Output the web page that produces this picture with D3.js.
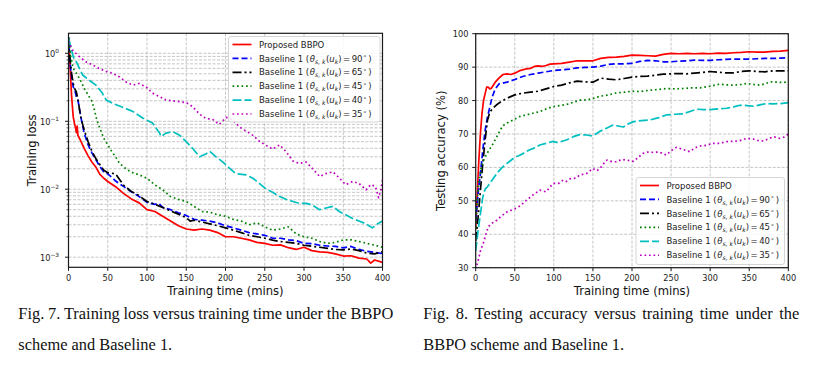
<!DOCTYPE html>
<html><head><meta charset="utf-8">
<script src="https://cdn.jsdelivr.net/npm/d3@7/dist/d3.min.js"></script>
<style>body{margin:0;background:#fff}svg{display:block}</style>
</head><body>
<svg id="c" width="815" height="367"></svg>
<script>
// ---------- DATA ----------
const xTicks = [0, 50, 100, 150, 200, 250, 300, 350, 400];
const lossTicks = [1, 0.1, 0.01, 0.001];
const lossTickExp = ["0", "−1", "−2", "−3"];
const accTicks = [30, 40, 50, 60, 70, 80, 90, 100];
const seriesNames = ["Proposed BBPO", "90", "65", "45", "40", "35"];

const lossT_proposed = [0,2,4,6,8,9,10,11,12,15,20,25,30,35,40,45,50,60,70,80,90,100,110,120,130,140,150,160,170,180,190,200,210,220,230,240,250,260,270,280,290,300,310,320,330,340,350,360,370,380,385,390,400];
const loss_proposed = [1.7,0.64,0.23,0.117,0.088,0.080,0.068,0.085,0.062,0.053,0.040,0.031,0.025,0.021,0.0165,0.0145,0.0130,0.0109,0.0087,0.0072,0.0063,0.0050,0.0047,0.0040,0.0034,0.0029,0.0026,0.0025,0.0026,0.0025,0.0023,0.0020,0.0020,0.0019,0.0018,0.00165,0.0016,0.0015,0.00152,0.00138,0.0013,0.0014,0.00125,0.0012,0.00118,0.00112,0.00104,0.00105,0.00097,0.00094,0.00082,0.00091,0.00084];

const lossT_90 = [0,2,4,6,8,10,12,15,18,20,25,30,35,40,45,50,55,60,70,80,90,100,110,115,120,130,140,150,160,170,180,190,200,210,220,230,240,250,260,270,280,290,300,310,320,330,340,350,360,370,380,390,400];
const loss_90 = [1.7,0.71,0.45,0.32,0.29,0.23,0.206,0.13,0.084,0.067,0.045,0.034,0.027,0.0215,0.018,0.0168,0.0150,0.0132,0.0110,0.0092,0.0078,0.0064,0.0060,0.0062,0.0054,0.0050,0.0045,0.0041,0.0036,0.0035,0.0034,0.0032,0.0029,0.0027,0.0025,0.0023,0.0022,0.0021,0.0019,0.0019,0.0018,0.00175,0.0016,0.00158,0.0015,0.00146,0.00144,0.00137,0.00144,0.0013,0.00122,0.00118,0.00113];

const lossT_65 = [0,2,4,6,8,10,12,14,16,18,20,25,30,35,40,45,50,55,60,63,70,80,90,100,110,120,130,140,150,155,160,170,180,190,200,210,220,230,240,250,260,270,280,290,300,310,320,330,340,350,360,370,380,390,400];
const loss_65 = [1.7,0.8,0.5,0.36,0.30,0.27,0.21,0.15,0.11,0.09,0.075,0.05,0.036,0.028,0.023,0.019,0.0175,0.0172,0.0168,0.015,0.0115,0.0093,0.0080,0.0066,0.0060,0.0054,0.0048,0.0043,0.0038,0.0034,0.0035,0.0033,0.0031,0.0029,0.0027,0.0025,0.0023,0.0021,0.0020,0.0019,0.00178,0.0017,0.00165,0.0016,0.0015,0.00145,0.0014,0.00135,0.0013,0.00128,0.00132,0.00125,0.00115,0.00112,0.0012];

const lossT_45 = [0,3,6,10,15,20,25,30,33,36,40,45,50,55,60,65,70,75,80,90,100,110,120,130,140,150,160,170,180,190,200,210,220,230,240,250,260,270,280,290,300,310,320,330,340,350,360,370,380,390,400];
const loss_45 = [1.7,0.9,0.6,0.51,0.405,0.306,0.244,0.195,0.147,0.105,0.079,0.056,0.045,0.036,0.030,0.024,0.0215,0.0193,0.0178,0.0163,0.0145,0.0116,0.0098,0.0078,0.0071,0.0066,0.0056,0.0047,0.0046,0.0042,0.0040,0.0036,0.0034,0.0030,0.0032,0.0028,0.0025,0.0026,0.0028,0.0022,0.0020,0.0019,0.0017,0.0016,0.00165,0.0018,0.0018,0.0017,0.0016,0.0015,0.0014];

const lossT_40 = [0,3,6,10,18,26,35,43,48,56,69,82,95,107,116,118,124,133,141,150,158,167,175,180,188,196,205,213,226,235,243,252,260,269,277,286,294,303,311,320,328,337,345,353,362,370,379,387,394,400];
const loss_40 = [1.66,1.25,0.89,0.75,0.48,0.405,0.34,0.26,0.206,0.184,0.161,0.139,0.111,0.094,0.067,0.0595,0.067,0.070,0.063,0.050,0.040,0.030,0.033,0.036,0.030,0.0255,0.0204,0.017,0.0163,0.0145,0.0122,0.0100,0.0090,0.0078,0.0071,0.0066,0.0062,0.0062,0.0058,0.0050,0.0053,0.0056,0.0047,0.0042,0.0037,0.0034,0.0031,0.0027,0.0031,0.0034];

const lossT_35 = [0,5,14,22,31,39,48,56,65,73,82,90,99,107,116,124,133,141,150,158,167,175,184,192,201,209,218,226,235,243,252,260,269,277,286,294,303,311,320,328,337,345,353,362,370,379,385,391,395,398,400];
const loss_35 = [1.5,1.12,0.89,0.75,0.67,0.60,0.54,0.51,0.45,0.38,0.34,0.36,0.32,0.26,0.23,0.206,0.20,0.195,0.188,0.165,0.127,0.11,0.106,0.09,0.114,0.105,0.082,0.072,0.062,0.051,0.044,0.039,0.045,0.036,0.026,0.024,0.025,0.020,0.0154,0.017,0.018,0.0146,0.0117,0.0130,0.0122,0.0098,0.0117,0.0110,0.0075,0.0098,0.0137];

const accT_proposed = [0,2,4,6,8,10,12,14,16,18,20,25,30,35,40,45,50,55,60,65,70,75,80,85,90,95,100,110,120,130,140,150,160,170,180,190,200,210,220,230,240,250,260,270,280,290,300,310,320,330,340,350,360,370,380,390,400];
const acc_proposed = [42,52,62,70,76,80,82,84,84,83.5,83.7,85.5,86.8,87.8,88.0,87.8,88.2,88.8,89.2,89.5,89.6,90.2,90.4,90.2,90.5,90.9,91.0,91.1,91.5,91.9,91.9,91.9,92.6,92.9,93.0,93.2,93.6,93.5,93.4,93.3,93.8,94.1,94.0,94.1,94.0,94.1,94.0,94.2,94.1,94.3,94.4,94.6,94.5,94.5,94.7,94.8,95.0];

const accT_90 = [0,3,6,9,12,15,18,21,25,30,40,50,60,70,80,90,100,110,120,130,140,150,160,170,180,190,200,210,220,230,240,250,260,270,280,290,300,310,320,330,340,350,360,370,380,390,400];
const acc_90 = [44,52,58,65,71,75,78,81,83.5,85,85.5,86.3,87.2,87.8,88.2,88.6,89.0,89.2,89.4,89.8,89.9,90.0,90.3,90.8,91.0,91.0,91.1,91.7,92.0,91.9,91.6,91.6,91.8,91.9,92.1,92.0,92.0,92.2,92.3,92.4,92.4,92.4,92.5,92.6,92.6,92.7,92.8];

const accT_65 = [0,3,6,9,12,15,18,22,27,33,40,50,60,70,80,90,100,110,120,130,140,150,160,170,180,190,200,210,220,230,240,250,260,270,280,290,300,310,320,330,340,350,360,370,380,390,400];
const acc_65 = [38,45,53,61,68,74,76.5,77.7,78.8,79.8,80.7,81.7,82.2,82.5,82.8,83.5,84.2,84.6,85.3,85.8,85.6,85.5,86.7,86.4,86.2,86.6,87.0,87.2,87.3,87.6,87.9,88.0,88.1,88.0,88.2,88.4,88.7,88.5,88.3,88.3,88.7,88.9,88.7,88.6,88.9,88.9,88.9];

const accT_45 = [0,2,4,7,10,14,18,22,27,31,35,40,48,56,65,73,82,90,99,108,116,125,133,142,150,159,168,180,190,200,210,223,233,244,255,265,276,287,300,312,320,330,340,347,356,364,370,377,385,392,400];
const acc_45 = [42,50,56,60,62,64,65.5,67,69.2,71,72.5,73.3,74.2,75.2,75.7,76.2,76.7,77.5,78.2,78.5,78.8,79.5,80.1,80.2,80.6,81.3,81.6,82.3,82.5,82.8,82.7,83.1,83.3,83.6,83.5,83.6,83.8,83.8,84.3,84.9,84.7,84.6,84.8,85.1,84.8,84.6,85.0,85.6,85.5,85.4,85.6];

const accT_40 = [0,3,6,9,12,15,18,22,27,33,40,50,55,61,69,74,82,90,99,105,116,125,133,142,150,159,168,175,182,189,195,202,212,223,233,244,255,265,275,283,292,300,310,321,330,338,347,356,365,372,380,390,400];
const acc_40 = [35,41,46,51,53.5,54.2,55.2,56.5,58.2,59.8,61.2,63,63.5,64.2,65.3,65.7,66.7,67.2,67.8,67.4,68.2,69.2,69.8,69.7,69.4,70.8,71.8,72.6,72.4,72.1,73.0,73.7,74.0,74.2,74.8,75.7,75.9,76.0,76.8,77.4,77.3,77.3,77.5,77.7,78.1,78.6,78.5,78.3,78.8,79.1,79.0,79.1,79.4];

const accT_35 = [0,3,6,10,13,16,20,27,33,40,50,57,65,73,82,90,99,106,112,116,121,128,133,142,150,155,159,165,168,175,180,187,193,202,208,214,220,227,235,244,250,257,265,274,280,287,295,304,312,321,330,338,347,355,362,368,375,381,389,395,400];
const acc_35 = [29.5,32,35,37.5,40,42.2,43.2,44.2,45.5,46.7,47.6,48.5,50.2,51.7,53.2,52.7,55.2,55.2,56.2,55.8,56.6,56.8,57.7,58.2,59.7,59.0,59.7,61.5,62.2,61.7,61.7,62.4,62.2,61.8,63.0,64.2,64.6,64.5,64.6,63.7,65.0,66.0,65.4,64.7,65.8,66.4,66.6,67.2,67.2,67.7,67.8,68.0,68.7,68.5,68.0,67.9,68.6,69.2,68.7,69.1,70.0];

// ---------- STYLE ----------
const styles = [
  {color: "#ff0000", dash: null},
  {color: "#0000ff", dash: "6,3"},
  {color: "#000000", dash: "9,3,2,3"},
  {color: "#008000", dash: "1.7,2.8"},
  {color: "#00bfbf", dash: "9,3"},
  {color: "#bf00bf", dash: "1.7,2.8"}
];
const FONT = "DejaVu Sans, sans-serif";
const svg = d3.select("#c");

const zip = (t, v) => t.map((d, i) => [d, v[i]]);
const lossSeries = [zip(lossT_proposed, loss_proposed), zip(lossT_90, loss_90), zip(lossT_65, loss_65), zip(lossT_45, loss_45), zip(lossT_40, loss_40), zip(lossT_35, loss_35)];
const accSeries = [zip(accT_proposed, acc_proposed), zip(accT_90, acc_90), zip(accT_65, acc_65), zip(accT_45, acc_45), zip(accT_40, acc_40), zip(accT_35, acc_35)];

function legendLabel(t, name, i) {
  if (i === 0) { t.text(name); return; }
  t.append("tspan").text("Baseline 1 (");
  t.append("tspan").attr("font-style", "italic").attr("dx", 0.6).text("θ");
  t.append("tspan").attr("font-style", "italic").attr("font-size", "6.1px").attr("dy", 2).text("s, k");
  t.append("tspan").attr("dy", -2).attr("dx", 0.4).text("(");
  t.append("tspan").attr("font-style", "italic").text("u");
  t.append("tspan").attr("font-style", "italic").attr("font-size", "6.1px").attr("dy", 2).text("k");
  t.append("tspan").attr("dy", -2).text(")");
  t.append("tspan").attr("dx", 1.5).text("=");
  t.append("tspan").attr("dx", 1.5).text(name);
  t.append("tspan").attr("font-size", "6.1px").attr("dy", -3.5).attr("dx", 0.5).text("∘");
  t.append("tspan").attr("dy", 3.5).attr("dx", 1.5).text(")");
}

function drawChart(cfg) {
  const g = svg.append("g");
  const x = d3.scaleLinear().domain([0, 400]).range([cfg.x0, cfg.x1]);
  const y = cfg.y;
  const clipId = "clip" + cfg.id;
  svg.append("clipPath").attr("id", clipId).append("rect")
    .attr("x", cfg.x0).attr("y", cfg.y0).attr("width", cfg.x1 - cfg.x0).attr("height", cfg.y1 - cfg.y0);

  // grid
  const grid = g.append("g").attr("stroke", "#b8b8b8").attr("stroke-width", 0.8).attr("stroke-dasharray", "3,1.5");
  xTicks.forEach(v => grid.append("line").attr("x1", x(v)).attr("x2", x(v)).attr("y1", cfg.y0).attr("y2", cfg.y1));
  cfg.gridY.forEach(v => grid.append("line").attr("y1", y(v)).attr("y2", y(v)).attr("x1", cfg.x0).attr("x2", cfg.x1));

  // lines
  const line = d3.line().x(d => x(d[0])).y(d => y(d[1]));
  const lg = g.append("g").attr("clip-path", `url(#${clipId})`);
  cfg.series.forEach((s, i) => {
    lg.append("path").datum(s).attr("d", line).attr("fill", "none")
      .attr("stroke", styles[i].color).attr("stroke-width", 1.7)
      .attr("stroke-linejoin", "round")
      .attr("stroke-dasharray", styles[i].dash);
  });

  // spines
  g.append("rect").attr("x", cfg.x0).attr("y", cfg.y0).attr("width", cfg.x1 - cfg.x0).attr("height", cfg.y1 - cfg.y0)
    .attr("fill", "none").attr("stroke", "#1a1a1a").attr("stroke-width", 1.2);

  // x ticks
  xTicks.forEach(v => {
    g.append("line").attr("x1", x(v)).attr("x2", x(v)).attr("y1", cfg.y1).attr("y2", cfg.y1 + 3.5).attr("stroke", "#1a1a1a").attr("stroke-width", 1);
    g.append("text").attr("x", x(v)).attr("y", cfg.y1 + 13.3).attr("text-anchor", "middle")
      .attr("font-family", FONT).attr("font-size", "8.2px").attr("fill", "#222").text(v);
  });
  g.append("text").attr("x", (cfg.x0 + cfg.x1) / 2).attr("y", 294.5).attr("text-anchor", "middle")
    .attr("font-family", FONT).attr("font-size", "11.6px").attr("fill", "#111").text(cfg.xLabel);
  g.append("text").attr("transform", `translate(${cfg.yLabelX},${(cfg.y0 + cfg.y1) / 2}) rotate(-90)`)
    .attr("text-anchor", "middle").attr("font-family", FONT).attr("font-size", "11.6px").attr("fill", "#111").text(cfg.yLabel);
  cfg.yTicks(g, y);

  // legend
  const L = cfg.legend;
  g.append("rect").attr("x", L.x).attr("y", L.y).attr("width", L.w).attr("height", L.h).attr("rx", 2.5)
    .attr("fill", "#fff").attr("fill-opacity", 0.85).attr("stroke", "#d0d0d0").attr("stroke-width", 0.9);
  seriesNames.forEach((n, i) => {
    const cy = L.y + 8 + i * L.dy;
    g.append("line").attr("x1", L.x + 4).attr("x2", L.x + 23).attr("y1", cy).attr("y2", cy)
      .attr("stroke", styles[i].color).attr("stroke-width", 1.7).attr("stroke-dasharray", styles[i].dash);
    const t = g.append("text").attr("x", L.x + 30.5).attr("y", cy + 3.1)
      .attr("font-family", FONT).attr("font-size", "8.5px").attr("fill", "#222");
    legendLabel(t, n, i);
  });
}

// left: training loss
const yLoss = d3.scaleLog().domain([7.1e-4, 1.97]).range([267.3, 33.3]);
const lossGrid = [];
[0.001, 0.01, 0.1, 1].forEach(b => { for (let k = 1; k <= 9; k++) { const v = b * k; if (v >= 7.1e-4 && v <= 1.97) lossGrid.push(v); } });
drawChart({
  id: "L", x0: 68.5, x1: 382.5, y0: 33.3, y1: 267.3, y: yLoss, series: lossSeries,
  gridY: lossGrid, xLabel: "Training time (mins)", yLabel: "Training loss", yLabelX: 35.5,
  legend: {x: 228.5, y: 36.5, w: 151.5, h: 85.5, dy: 13.9},
  yTicks: (g, y) => {
    lossGrid.forEach(v => {
      const major = lossTicks.some(m => Math.abs(m - v) / m < 1e-6);
      g.append("line").attr("x1", 68.5).attr("x2", 68.5 - (major ? 3.5 : 2)).attr("y1", y(v)).attr("y2", y(v))
        .attr("stroke", "#1a1a1a").attr("stroke-width", major ? 1 : 0.7);
    });
    lossTicks.forEach((v, i) => {
      const t = g.append("text").attr("x", 59).attr("y", y(v) + 3.5).attr("text-anchor", "end")
        .attr("font-family", FONT).attr("font-size", "8.2px").attr("fill", "#222");
      t.append("tspan").text("10");
      t.append("tspan").attr("font-size", "5.8px").attr("dy", -4).text(lossTickExp[i]);
    });
  }
});

// right: testing accuracy
const yAcc = d3.scaleLinear().domain([30, 100]).range([267.7, 33.7]);
drawChart({
  id: "R", x0: 475.7, x1: 788.3, y0: 33.7, y1: 267.7, y: yAcc, series: accSeries,
  gridY: accTicks, xLabel: "Training time (mins)", yLabel: "Testing accuracy (%)", yLabelX: 444.5,
  legend: {x: 636, y: 177.5, w: 148.5, h: 87, dy: 13.95},
  yTicks: (g, y) => {
    accTicks.forEach(v => {
      g.append("line").attr("x1", 475.7).attr("x2", 472.2).attr("y1", y(v)).attr("y2", y(v)).attr("stroke", "#1a1a1a").attr("stroke-width", 1);
      g.append("text").attr("x", 468.5).attr("y", y(v) + 3).attr("text-anchor", "end")
        .attr("font-family", FONT).attr("font-size", "8.2px").attr("fill", "#222").text(v);
    });
  }
});

// captions
const capFont = "Liberation Serif, Times New Roman, serif";
function caption(words, x0, x1, yb, justify) {
  const t = svg.append("g");
  const ws = words.split(" ");
  const nodes = ws.map(w => t.append("text").attr("y", yb).attr("font-family", capFont).attr("font-size", "16.4px").attr("fill", "#111").text(w));
  const widths = nodes.map(n => n.node().getComputedTextLength());
  const total = d3.sum(widths);
  const gap = justify ? (x1 - x0 - total) / (ws.length - 1) : 16.4 * 0.25;
  let cx = x0;
  nodes.forEach((n, i) => { n.attr("x", cx); cx += widths[i] + gap; });
}
caption("Fig. 7. Training loss versus training time under the BBPO", 18.3, 393.3, 319.3, true);
caption("scheme and Baseline 1.", 18.3, 0, 349.5, false);
caption("Fig. 8. Testing accuracy versus training time under the", 423.3, 799.3, 319.3, true);
caption("BBPO scheme and Baseline 1.", 423.3, 0, 349.5, false);
</script>
</body></html>
